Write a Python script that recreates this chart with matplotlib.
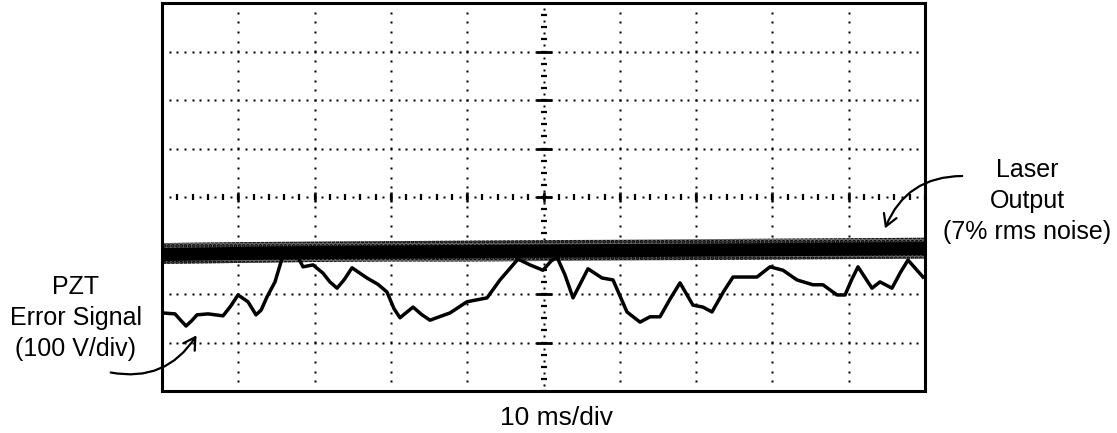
import numpy as np
import matplotlib
matplotlib.use("Agg")
import matplotlib.pyplot as plt
from matplotlib.patches import FancyArrowPatch

plt.rcParams['font.family'] = ['Liberation Sans', 'DejaVu Sans']
plt.rcParams['hatch.linewidth'] = 1.8

# ---------------- data (time in ms, amplitude in divisions) ----------------
pzt_t = [0.0, 1.70, 2.5, 3.15, 3.9, 4.59, 6.03, 8.0, 9.0, 9.96, 11.27, 12.32, 13.0,
         13.76, 14.81, 15.86, 16.78, 17.82, 18.48, 19.79, 21.10, 22.0, 22.94, 23.9,
         24.90, 26.87, 28.3, 29.49, 30.4, 31.19, 32.90, 34.0, 35.12, 37.75, 39.97,
         42.60, 44.30, 46.66, 48.23, 49.93, 51.0, 51.77, 52.8, 53.87, 55.83, 57.67,
         59.11, 60.94, 62.65, 63.96, 65.27, 66.6, 67.89, 69.59, 70.90, 72.08, 73.6,
         74.84, 77.98, 79.69, 81.39, 83.22, 85.32, 86.63, 88.47, 89.52, 90.4, 91.22,
         93.05, 94.10, 95.67, 96.8, 97.77, 99.74]
pzt_v = [-2.39, -2.41, -2.55, -2.66, -2.55, -2.43, -2.41, -2.45, -2.25, -2.02, -2.16,
         -2.43, -2.33, -2.06, -1.75, -1.20, -1.15, -1.24, -1.44, -1.40, -1.57, -1.75,
         -1.88, -1.70, -1.46, -1.67, -1.80, -1.96, -2.30, -2.49, -2.27, -2.42, -2.54,
         -2.39, -2.16, -2.08, -1.71, -1.28, -1.40, -1.51, -1.32, -1.24, -1.60, -2.08,
         -1.48, -1.67, -1.71, -2.37, -2.58, -2.47, -2.47, -2.10, -1.77, -2.23, -2.27,
         -2.37, -1.95, -1.65, -1.65, -1.44, -1.51, -1.71, -1.81, -1.81, -2.02, -2.02,
         -1.70, -1.44, -1.88, -1.75, -1.88, -1.55, -1.30, -1.65]

laser_t = [0, 10, 20, 30, 40, 50, 60, 70, 80, 90, 100]
laser_outer_hi = [-0.95, -0.93, -0.92, -0.91, -0.90, -0.89, -0.88, -0.87, -0.86, -0.85, -0.84]
laser_outer_lo = [-1.38, -1.36, -1.34, -1.33, -1.33, -1.32, -1.31, -1.30, -1.29, -1.28, -1.27]
laser_core_hi = [-1.04, -1.02, -1.00, -0.99, -0.98, -0.97, -0.96, -0.95, -0.94, -0.93, -0.92]
laser_core_lo = [-1.31, -1.29, -1.27, -1.26, -1.25, -1.24, -1.23, -1.22, -1.21, -1.20, -1.19]

x_label = "10 ms/div"
laser_label = "Laser\nOutput\n(7% rms noise)"
pzt_label = "PZT\nError Signal\n(100 V/div)"

# ---------------- figure ----------------
W, H = 1117, 433
fig = plt.figure(figsize=(W / 100, H / 100), dpi=100)
ax = fig.add_axes([162 / W, 1 - 391 / H, (925 - 162) / W, (391 - 3) / H])
ax.set_xlim(0, 100)
ax.set_ylim(-4, 4)
ax.set_xticks([])
ax.set_yticks([])
for s in ax.spines.values():
    s.set_linewidth(2.2)
    s.set_zorder(10)

# dotted graticule
dot_kw = dict(linestyle='none', marker='s', ms=1.6, mec='none', mfc='black', zorder=1)
ydots = np.arange(-4, 4.001, 0.2)
for gx in range(10, 100, 10):
    if gx == 50:
        continue
    ax.plot(np.full_like(ydots, gx), ydots, **dot_kw)
xdots = np.arange(0, 100.001, 1.0)
for gy in range(-3, 4):
    if gy == 0:
        continue
    ax.plot(xdots, np.full_like(xdots, gy), **dot_kw)

# centre horizontal axis with minor ticks
hb = np.arange(0, 100.001, 2.0)
ax.plot(hb, np.zeros_like(hb), linestyle='none', marker='|', ms=5, mew=1.6, color='black', zorder=2)
hm = np.arange(10, 100, 10.0)
ax.plot(hm, np.zeros_like(hm), linestyle='none', marker='|', ms=7, mew=1.8, color='black', zorder=2)
hd = np.arange(1, 100, 2.0)
ax.plot(hd, np.zeros_like(hd), **dot_kw)

# centre vertical axis with minor ticks
vb = np.arange(-4, 4.001, 0.25)
ax.plot(np.full_like(vb, 50), vb, linestyle='none', marker='_', ms=5, mew=1.6, color='black', zorder=2)
vm = np.arange(-3, 4, 1.0)
ax.plot(np.full_like(vm, 50), vm, linestyle='none', marker='_', ms=11, mew=2.0, color='black', zorder=2)
vd = np.arange(-4 + 0.125, 4, 0.25)
ax.plot(np.full_like(vd, 50), vd, **dot_kw)

# laser output: noisy band (speckled fringe + dense core)
ax.fill_between(laser_t, laser_outer_lo, laser_outer_hi, facecolor='#6a6a6a',
                edgecolor='black', hatch='....', linewidth=0, zorder=3)
ax.fill_between(laser_t, laser_core_lo, laser_core_hi, color='black', linewidth=0, zorder=4)

# PZT error signal
ax.plot(pzt_t, pzt_v, color='black', lw=2.5, solid_joinstyle='round', zorder=5)

# labels
fig.text(556 / W, 1 - 418 / H, x_label, ha='center', va='center', fontsize=19)
fig.text(1027 / W, 1 - 201 / H, laser_label, ha='center', va='center', fontsize=18,
         linespacing=1.36)
fig.text(76 / W, 1 - 318 / H, pzt_label, ha='center', va='center', fontsize=18,
         linespacing=1.36)

arrow_kw = dict(arrowstyle='->,head_length=0.6,head_width=0.35', color='black', lw=1.6,
                mutation_scale=14)
fig.add_artist(FancyArrowPatch((965, H - 176), (884, H - 231), transform=None,
                               connectionstyle='arc3,rad=0.35', **arrow_kw))
fig.add_artist(FancyArrowPatch((108, H - 372), (198, H - 333), transform=None,
                               connectionstyle='arc3,rad=0.35', **arrow_kw))

fig.savefig('out.png', dpi=100)
